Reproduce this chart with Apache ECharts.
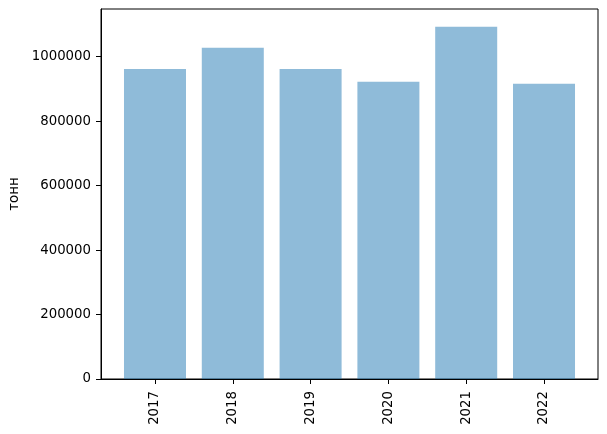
<!DOCTYPE html>
<html>
<head>
<meta charset="utf-8">
<script src="https://cdn.jsdelivr.net/npm/echarts@6/dist/echarts.min.js"></script>
<style>html,body{margin:0;padding:0;background:#fff}#c{width:607px;height:434px}</style>
</head>
<body>
<div id="c"></div>
<script>
const categories = ['2017', '2018', '2019', '2020', '2021', '2022'];
const values = [962000, 1028000, 962000, 922000, 1093000, 916000];
const yTicks = [0, 200000, 400000, 600000, 800000, 1000000];
const yLabel = 'тонн';

const FONT = 'DejaVu Sans';
const positions = categories.map((c, i) => i);
const chart = echarts.init(document.getElementById('c'), null, {renderer: 'canvas'});
chart.setOption({
  animation: false,
  backgroundColor: '#fff',
  grid: {left: 101, right: 9, top: 9, bottom: 55, containLabel: false, outerBoundsMode: 'none',
    show: true, borderColor: '#000', borderWidth: 1, backgroundColor: 'transparent'},
  xAxis: {
    type: 'value', min: -0.694, max: 5.694,
    splitLine: {show: false},
    axisLine: {show: true, onZero: false, lineStyle: {color: '#000', width: 1}},
    axisTick: {show: true, length: 5, lineStyle: {color: '#000'}, customValues: positions},
    axisLabel: {show: true, rotate: 90, margin: 12, color: '#000', fontSize: 13.3, fontFamily: FONT,
      customValues: positions,
      formatter: v => categories[Math.round(v)]}
  },
  yAxis: {
    type: 'value', min: 0, max: 1148000,
    name: yLabel, nameLocation: 'middle', nameRotate: 90, nameGap: 79,
    nameTextStyle: {color: '#000', fontSize: 13.3, fontFamily: FONT},
    splitLine: {show: false},
    axisLine: {show: true, onZero: false, lineStyle: {color: '#000', width: 1}},
    axisTick: {show: true, length: 5, lineStyle: {color: '#000'}, customValues: yTicks},
    axisLabel: {color: '#000', fontSize: 13.3, fontFamily: FONT, margin: 10, customValues: yTicks,
      formatter: v => String(v)}
  },
  series: [{
    type: 'bar',
    data: values.map((v, i) => [positions[i], v]),
    barWidth: 62,
    itemStyle: {color: 'rgba(31,119,180,0.5)'},
    silent: true
  }]
});
</script>
</body>
</html>
